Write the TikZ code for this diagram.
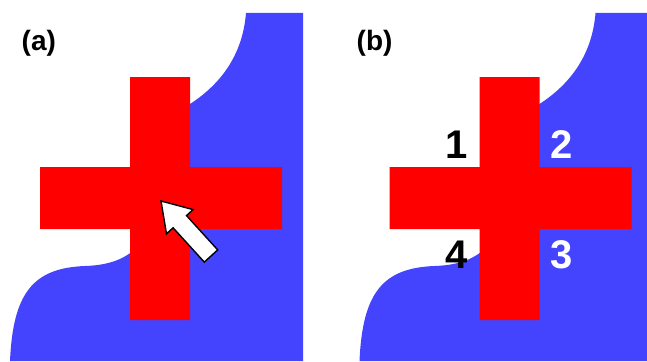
\documentclass[tikz,border=0pt]{standalone}
\usepackage{fontspec}
\setmainfont{Liberation Sans}
\usepackage{tikz}
\usetikzlibrary{positioning}
\definecolor{fieldblue}{RGB}{68,68,255}
\definecolor{crossred}{RGB}{255,0,0}
\tikzstyle{field}=[fill=fieldblue, draw=none]
\tikzstyle{cross}=[fill=crossred, draw=none]
\tikzstyle{panel_label}=[anchor=base west, inner sep=0pt, font=\bfseries\fontsize{28}{30}\selectfont]
\tikzstyle{corner_num}=[anchor=base, inner sep=0pt, font=\bfseries\fontsize{40}{42}\selectfont]
\tikzstyle{push_arrow}=[fill=white, draw=black, line width=1.4pt, line join=miter]

\begin{document}
\begin{tikzpicture}[x=1pt, y=-1pt]
          \useasboundingbox (0,0) rectangle (647,361);
          % panel (a)
          \fill[field] (246,13) -- (303,13) -- (303,361) -- (10,361)
            .. controls (13,293) and (33,268) .. (85,266)
            .. controls (115,265) and (128,256) .. (140,245) -- (180,110)
            .. controls (225,85) and (243,50) .. (246,13) -- cycle;
          \fill[cross] (130,77) rectangle (190,320) (40,167) rectangle (282,229);
          \filldraw[push_arrow] (161,201) -- (193.1,209.6) -- (186.5,215.6) -- (217.7,249.9)
            -- (204.3,262.1) -- (173.1,227.8) -- (166.5,233.8) -- cycle;
          \node[panel_label] (lbla) at (21.5,50) {(a)};
          % panel (b)
          \fill[field] (595.5,13) -- (647,13) -- (647,361) -- (359.5,361)
            .. controls (362.5,293) and (382.5,268) .. (434.5,266)
            .. controls (464.5,265) and (477.5,256) .. (489.5,245) -- (529.5,110)
            .. controls (574.5,85) and (592.5,50) .. (595.5,13) -- cycle;
          \fill[cross] (479.5,77) rectangle (539.5,320) (389.5,167) rectangle (631.5,229);
          \node[panel_label] (lblb) at (356.5,50) {(b)};
          \node[corner_num, text=black] (q1) at (457,158) {1};
          \node[corner_num, text=white] (q2) at (562,158) {2};
          \node[corner_num, text=white] (q3) at (562,268) {3};
          \node[corner_num, text=black] (q4) at (457,268) {4};
        \end{tikzpicture}
\end{document}
